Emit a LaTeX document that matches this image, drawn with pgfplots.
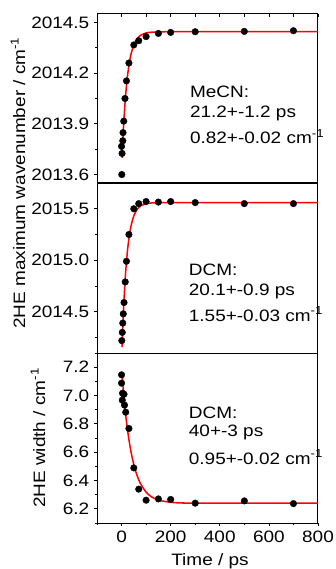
\documentclass[border=0pt]{standalone}
\usepackage{fontspec}
\setmainfont{Liberation Sans}[FakeStretch=1.15]
\usepackage{pgfplots}
\pgfplotsset{compat=1.18}

\pgfplotstableread{
t y
1 2013.60
2 2013.725
0 2013.767
5 2013.80
6 2013.848
9 2013.916
14 2014.05
20 2014.154
30 2014.26
50 2014.367
70 2014.392
100 2014.416
150 2014.435
200 2014.441
300 2014.445
500 2014.447
700 2014.451
}\mecndata

\pgfplotstableread{
t y
2 2013.699
5 2013.797
10 2013.933
15 2014.041
20 2014.126
25 2014.193
30 2014.246
35 2014.288
40 2014.321
50 2014.367
60 2014.397
70 2014.415
80 2014.426
100 2014.438
120 2014.442
150 2014.444
200 2014.445
800 2014.445
}\mecnfit

\pgfplotstableread{
t y
1 2014.22
3 2014.30
5 2014.39
7 2014.48
10 2014.59
15 2014.79
20 2014.99
30 2015.25
50 2015.50
70 2015.55
100 2015.57
150 2015.565
200 2015.57
300 2015.56
500 2015.55
700 2015.55
}\dcmdata

\pgfplotstableread{
t y
2 2014.157
5 2014.351
10 2014.617
15 2014.825
20 2014.987
25 2015.113
30 2015.212
35 2015.288
40 2015.348
50 2015.431
60 2015.482
70 2015.512
80 2015.531
100 2015.549
120 2015.556
150 2015.559
200 2015.56
800 2015.56
}\dcmfit

\pgfplotstableread{
t y
0 7.146
0 7.087
4 7.016
3 6.967
10 7.009
12 6.932
17 6.882
30 6.767
50 6.489
70 6.339
100 6.261
150 6.27
200 6.266
300 6.24
500 6.256
700 6.237
}\widthdata

\pgfplotstableread{
t y
2 7.144
5 7.078
10 6.980
15 6.893
20 6.816
25 6.749
30 6.689
35 6.636
40 6.589
50 6.512
60 6.452
70 6.405
80 6.369
100 6.318
120 6.287
150 6.262
200 6.246
250 6.242
300 6.2405
800 6.24
}\widthfit

\pgfplotsset{
  panel/.style={
    scale only axis,
    width=221pt,
    xmin=-100, xmax=800,
    axis line style={line width=1pt},
    tick style={black, line width=0.7pt},
    tick align=outside,
    ytick pos=left,
    major tick length=3pt,
    minor tick length=2pt,
    /pgf/number format/assume math mode=true,
    /pgf/number format/set thousands separator={},
    ticklabel style={font=\fontsize{16.5}{19}\selectfont},
    yticklabel style={/pgf/number format/fixed,
      /pgf/number format/precision=1,
      /pgf/number format/fixed zerofill, xshift=1pt},
    clip=false,
  },
  dots/.style={only marks, mark=*, mark size=3.3pt, black},
  fit/.style={red, line width=1.5pt, smooth, no marks},
}
\tikzset{info/.style={anchor=base west, inner sep=0pt, font=\fontsize{16.5}{19}\selectfont}}

\begin{document}
\fontsize{16.5}{19}\selectfont
\begin{tikzpicture}
\path[use as bounding box] (0pt,0pt) rectangle (335pt,-569pt);

% top panel
\begin{axis}[panel, at={(97pt,-14pt)}, anchor=north west, height=169pt,
  ymin=2013.55, ymax=2014.55,
  ytick={2013.6,2013.9,2014.2,2014.5}, minor ytick={2013.75,2014.05,2014.35},
  xtick={-100,0,...,800}, xtick pos=right, xticklabels={},
  x tick style={yshift=-3pt}]
\addplot[fit] table[x=t,y=y] {\mecnfit};
\addplot[dots] table[x=t,y=y] {\mecndata};
\node[info] at (rel axis cs:0.42,0.503) {MeCN:};
\node[info] at (rel axis cs:0.42,0.385) {21.2+-1.2 ps};
\node[info] at (rel axis cs:0.42,0.231) {0.82+-0.02 cm\textsuperscript{-1}};
\end{axis}

% middle panel
\begin{axis}[panel, at={(97pt,-183pt)}, anchor=north west, height=170pt,
  ymin=2014.1, ymax=2015.75,
  ytick={2014.5,2015.0,2015.5}, minor ytick={2014.25,2014.75,2015.25},
  xtick=\empty]
\addplot[fit] table[x=t,y=y] {\dcmfit};
\addplot[dots] table[x=t,y=y] {\dcmdata};
\node[info] at (rel axis cs:0.415,0.453) {DCM:};
\node[info] at (rel axis cs:0.415,0.341) {20.1+-0.9 ps};
\node[info] at (rel axis cs:0.415,0.188) {1.55+-0.03 cm\textsuperscript{-1}};
\end{axis}

% bottom panel
\begin{axis}[panel, at={(97pt,-353pt)}, anchor=north west, height=170pt,
  ymin=6.1, ymax=7.3,
  ytick={6.2,6.4,...,7.21}, minor ytick={6.1,6.3,...,7.31},
  xtick={0,200,...,800}, minor xtick={-100,100,300,500,700},
  xtick pos=left,
  xticklabel style={/pgf/number format/fixed, yshift=1pt}]
\addplot[fit] table[x=t,y=y] {\widthfit};
\addplot[dots] table[x=t,y=y] {\widthdata};
\node[info] at (rel axis cs:0.415,0.612) {DCM:};
\node[info] at (rel axis cs:0.415,0.506) {40+-3 ps};
\node[info] at (rel axis cs:0.415,0.347) {0.95+-0.02 cm\textsuperscript{-1}};
\end{axis}

\node[rotate=90, anchor=base, inner sep=0pt] at (25pt,-183pt) {2HE maximum wavenumber / cm\textsuperscript{-1}};
\node[rotate=90, anchor=base, inner sep=0pt] at (45pt,-438pt) {2HE width / cm\textsuperscript{-1}};
\node[anchor=base, inner sep=0pt] at (210pt,-565pt) {Time / ps};
\end{tikzpicture}
\end{document}
